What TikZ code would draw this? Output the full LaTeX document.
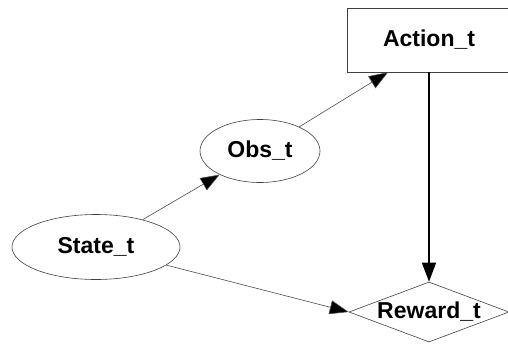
\documentclass[tikz,border=0pt]{standalone}
\usepackage{fontspec}
\setmainfont{Liberation Sans}
\usepackage{tikz}
\usetikzlibrary{shapes.geometric,arrows.meta}

\begin{document}
\begin{tikzpicture}[x=1pt, y=-1pt,
    var/.style={ellipse, draw=black!75, line width=0.6pt, inner sep=0pt,
      font=\fontsize{23}{27}\selectfont\bfseries},
    act/.style={rectangle, draw=black!75, line width=0.6pt, inner sep=0pt,
      minimum width=164pt, minimum height=64pt,
      font=\fontsize{23}{27}\selectfont\bfseries},
    util/.style={diamond, draw=black!75, line width=0.6pt, inner sep=0pt,
      aspect=2.67, minimum width=160pt, minimum height=60pt,
      font=\fontsize{23}{27}\selectfont\bfseries},
    link/.style={draw=black!70, line width=0.6pt,
      -{Triangle[length=19pt, width=14pt, fill=black]}}]
  \useasboundingbox (0,0) rectangle (508,343);

  \node[var, minimum width=168pt, minimum height=65pt] (state) at (96,247) {State\_t};
  \node[var, minimum width=120pt, minimum height=63pt] (obs) at (260,151) {Obs\_t};
  \node[act] (action) at (429,40) {Action\_t};
  \node[util] (reward) at (429,312) {Reward\_t};

  \draw[link] (obs) -- ([xshift=-41pt]action.south);
  \draw[link] (state) -- (obs);
  \draw[link] (state) -- (reward.west);
  \draw[link, draw=black, line width=1.5pt] (action) -- (reward);
\end{tikzpicture}
\end{document}
